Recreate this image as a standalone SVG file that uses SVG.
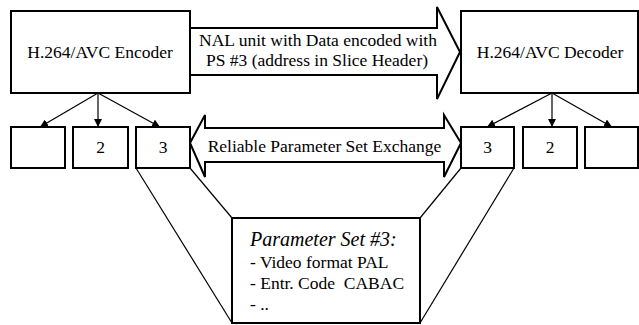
<svg xmlns="http://www.w3.org/2000/svg" width="639" height="325" viewBox="0 0 639 325">
  <style>
    .box { fill: #fff; stroke: #000; stroke-width: 2; }
    .arrowbody { fill: #fff; stroke: #000; stroke-width: 2; stroke-linejoin: miter; }
    .link { fill: none; stroke: #000; stroke-width: 1.2; }
    .txt { font-size: 17.5px; fill: #000; }
    .mid { text-anchor: middle; }
    .ital { font-style: italic; font-size: 20px; }
  </style>
  <defs>
    <marker id="tip" viewBox="0 0 10 10" refX="10" refY="5" markerWidth="8" markerHeight="8" markerUnits="userSpaceOnUse" orient="auto">
      <path d="M0,0 L10,5 L0,10 Z" fill="#000"/>
    </marker>
  </defs>

  <g font-family="'Liberation Serif', 'DejaVu Serif', serif">
  <!-- callout lines from the stored parameter sets to the detail box -->
  <g id="connectors">
    <line class="link" x1="136" y1="168" x2="232" y2="323"/>
    <line class="link" x1="190" y1="168" x2="232" y2="218"/>
    <line class="link" x1="461" y1="168" x2="420" y2="218"/>
    <line class="link" x1="514" y1="168" x2="420" y2="323"/>
    <!-- encoder to its parameter set slots -->
    <line class="link" x1="98" y1="93" x2="40" y2="127" marker-end="url(#tip)"/>
    <line class="link" x1="98" y1="93" x2="98" y2="127" marker-end="url(#tip)"/>
    <line class="link" x1="98" y1="93" x2="160" y2="127" marker-end="url(#tip)"/>
    <!-- decoder to its parameter set slots -->
    <line class="link" x1="552" y1="93" x2="487" y2="127" marker-end="url(#tip)"/>
    <line class="link" x1="552" y1="93" x2="552" y2="127" marker-end="url(#tip)"/>
    <line class="link" x1="552" y1="93" x2="612" y2="127" marker-end="url(#tip)"/>
  </g>

  <!-- NAL unit transfer arrow -->
  <g id="nal-arrow">
    <path class="arrowbody" d="M190,28 H437 V7 L460,52 L437,99 V75 H190"/>
    <text class="txt mid" x="318" y="46">NAL unit with Data encoded with</text>
    <text class="txt mid" x="317" y="66">PS #3 (address in Slice Header)</text>
  </g>

  <!-- parameter set exchange double arrow -->
  <g id="ps-exchange">
    <path class="arrowbody" d="M190,143 L205,115 V128 H444 V115 L461,143 L444,177 V162 H205 V177 Z"/>
    <text class="txt mid" x="324.5" y="152">Reliable Parameter Set Exchange</text>
  </g>

  <g id="encoder">
    <rect class="box" x="11" y="11" width="179" height="82"/>
    <text class="txt mid" x="100" y="58">H.264/AVC Encoder</text>
  </g>

  <g id="decoder">
    <rect class="box" x="461" y="11" width="177" height="82"/>
    <text class="txt mid" x="550" y="58">H.264/AVC Decoder</text>
  </g>

  <g id="enc-ps1">
    <rect class="box" x="11" y="127" width="54" height="41"/>
  </g>
  <g id="enc-ps2">
    <rect class="box" x="73" y="127" width="55" height="41"/>
    <text class="txt mid" x="100.5" y="153">2</text>
  </g>
  <g id="enc-ps3">
    <rect class="box" x="136" y="127" width="54" height="41"/>
    <text class="txt mid" x="163" y="153">3</text>
  </g>

  <g id="dec-ps3">
    <rect class="box" x="461" y="127" width="53" height="41"/>
    <text class="txt mid" x="487.5" y="153">3</text>
  </g>
  <g id="dec-ps2">
    <rect class="box" x="523" y="127" width="54" height="41"/>
    <text class="txt mid" x="550" y="153">2</text>
  </g>
  <g id="dec-ps1">
    <rect class="box" x="585" y="127" width="53" height="41"/>
  </g>

  <g id="ps-detail">
    <rect class="box" x="232" y="218" width="188" height="105"/>
    <text class="txt ital" x="250" y="246">Parameter Set #3:</text>
    <text class="txt" x="250" y="268">- Video format PAL</text>
    <text class="txt" x="250" y="289" xml:space="preserve">- Entr. Code  CABAC</text>
    <text class="txt" x="250" y="310">- ..</text>
  </g>
  </g>
</svg>
